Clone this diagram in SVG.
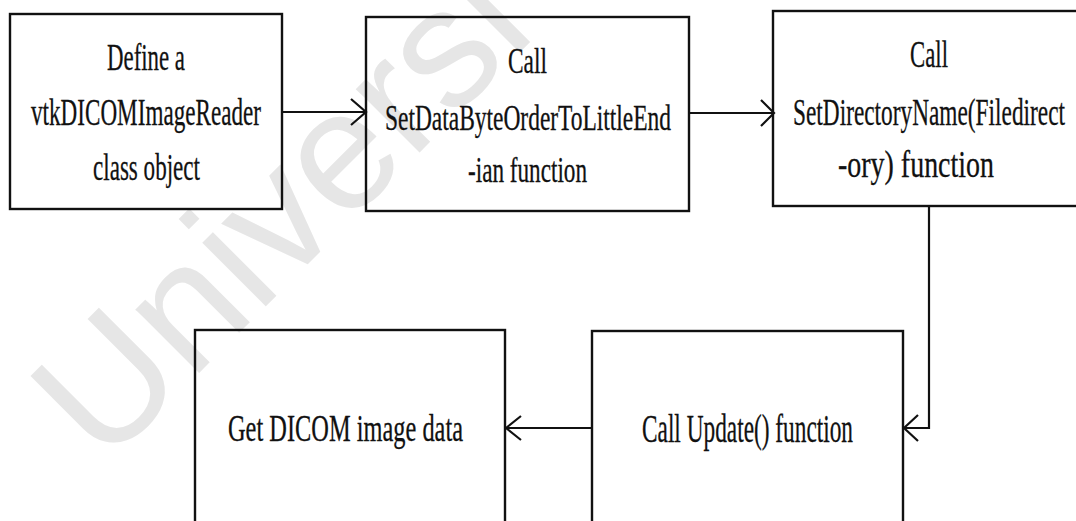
<svg xmlns="http://www.w3.org/2000/svg" width="1076" height="521" viewBox="0 0 1076 521">
<defs>
<style>
.box{fill:none;stroke:#111;stroke-width:2.4}
.lbl{font-family:"Liberation Serif","Times New Roman",serif;fill:#111;stroke:#111;stroke-width:0.3;font-size:38px}
.con{fill:none;stroke:#111;stroke-width:2.2;stroke-linejoin:miter}
.wm{font-family:"Liberation Sans",Arial,sans-serif;font-size:170px;fill:#e6e6e6}
</style>
</defs>
<rect width="1076" height="521" fill="#fff"/>
<text class="wm" transform="translate(104,468) rotate(-45)">Universi</text>

<g id="node-define">
<rect class="box" x="10" y="14" width="272" height="195"/>
<text class="lbl" x="107" y="70" textLength="78" lengthAdjust="spacingAndGlyphs">Define a</text>
<text class="lbl" x="31" y="125" textLength="230" lengthAdjust="spacingAndGlyphs">vtkDICOMImageReader</text>
<text class="lbl" x="93" y="180" textLength="107" lengthAdjust="spacingAndGlyphs">class object</text>
</g>

<g id="node-byteorder">
<rect class="box" x="366" y="17" width="323" height="194"/>
<text class="lbl" x="508" y="73" textLength="39" lengthAdjust="spacingAndGlyphs" style="font-size:35px">Call</text>
<text class="lbl" x="385" y="130" textLength="286" lengthAdjust="spacingAndGlyphs" style="font-size:35px">SetDataByteOrderToLittleEnd</text>
<text class="lbl" x="468" y="182" textLength="119" lengthAdjust="spacingAndGlyphs" style="font-size:35px">-ian function</text>
</g>

<g id="node-directory">
<rect class="box" x="773" y="11" width="312" height="195"/>
<text class="lbl" x="910" y="67" textLength="38" lengthAdjust="spacingAndGlyphs">Call</text>
<text class="lbl" x="793" y="125" textLength="272" lengthAdjust="spacingAndGlyphs">SetDirectoryName(Filedirect</text>
<text class="lbl" x="838" y="177" textLength="156" lengthAdjust="spacingAndGlyphs">-ory) function</text>
</g>

<g id="node-update">
<rect class="box" x="592" y="331" width="311" height="220"/>
<text class="lbl" x="642" y="442" textLength="211" lengthAdjust="spacingAndGlyphs" style="font-size:39px">Call Update() function</text>
</g>

<g id="node-getdata">
<rect class="box" x="195" y="330" width="310" height="220"/>
<text class="lbl" x="228" y="441" textLength="235" lengthAdjust="spacingAndGlyphs">Get DICOM image data</text>
</g>

<g id="connectors">
<path class="con" d="M282,112 H365"/>
<path class="con" d="M351,99 L366,112 L351,125"/>
<path class="con" d="M689,113 H772"/>
<path class="con" d="M761,100 L774,113 L761,126"/>
<path class="con" d="M929,206 V428 H905"/>
<path class="con" d="M918,415 L904,428 L918,441"/>
<path class="con" d="M592,428 H507"/>
<path class="con" d="M521,416 L506,428 L521,440"/>
</g>
</svg>
